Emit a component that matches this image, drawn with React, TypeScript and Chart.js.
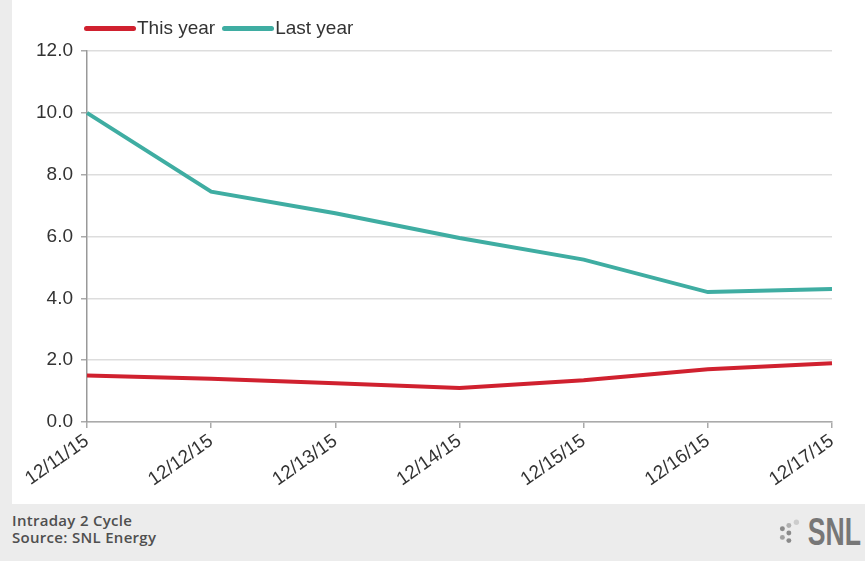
import React, { useEffect, useRef } from "react";
import { Chart, registerables } from "chart.js";

Chart.register(...registerables);

const categories = ["12/11/15", "12/12/15", "12/13/15", "12/14/15", "12/15/15", "12/16/15", "12/17/15"];
const thisYear = [1.5, 1.4, 1.25, 1.1, 1.35, 1.7, 1.9];
const lastYear = [10.0, 7.45, 6.75, 5.95, 5.25, 4.2, 4.3];
const seriesNames = ["This year", "Last year"];
const seriesColors = ["#d0212f", "#3fada2"];
const yMin = 0;
const yMax = 12;
const yStep = 2;
const footerLines = ["Intraday 2 Cycle", "Source: SNL Energy"];

const FONT = "'Liberation Sans', Arial, sans-serif";

export default function App() {
  const ref = useRef<HTMLCanvasElement | null>(null);

  useEffect(() => {
    document.body.style.margin = "0";
    const canvas = ref.current;
    if (!canvas) return;
    const chart = new Chart(canvas, {
      type: "line",
      data: {
        labels: categories,
        datasets: [
          {
            label: seriesNames[0],
            data: thisYear,
            borderColor: seriesColors[0],
            backgroundColor: seriesColors[0],
            borderWidth: 4,
            pointRadius: 0,
            tension: 0,
            fill: false,
          },
          {
            label: seriesNames[1],
            data: lastYear,
            borderColor: seriesColors[1],
            backgroundColor: seriesColors[1],
            borderWidth: 4,
            pointRadius: 0,
            tension: 0,
            fill: false,
          },
        ],
      },
      options: {
        animation: false,
        responsive: false,
        maintainAspectRatio: false,
        layout: { padding: { top: 51, right: 33, bottom: 11, left: 16 } },
        plugins: {
          legend: { display: false },
          tooltip: { enabled: false },
        },
        scales: {
          x: {
            offset: false,
            grid: {
              drawOnChartArea: false,
              drawTicks: true,
              tickLength: 6,
              color: "#aaaaaa",
              lineWidth: 1.5,
            },
            border: { color: "#aaaaaa", width: 1.5 },
            ticks: {
              autoSkip: false,
              minRotation: 35,
              maxRotation: 35,
              padding: 2,
              color: "#333333",
              font: { family: FONT, size: 19 },
            },
          },
          y: {
            min: yMin,
            max: yMax,
            grid: {
              color: "#dddddd",
              lineWidth: 1.5,
              tickLength: 6,
              tickColor: "#aaaaaa",
            },
            border: { color: "#999999", width: 1.5 },
            ticks: {
              stepSize: yStep,
              padding: 8,
              color: "#333333",
              font: { family: FONT, size: 19 },
              callback: (v: any) => Number(v).toFixed(1),
            },
          },
        },
      },
    });
    return () => chart.destroy();
  }, []);

  const legendItem = (name: string, color: string) => (
    <div style={{ display: "flex", alignItems: "center", marginRight: 7 }}>
      <div style={{ width: 52, height: 5, borderRadius: 3, background: color, marginRight: 1 }} />
      <span>{name}</span>
    </div>
  );

  return (
    <div
      style={{
        position: "relative",
        width: 865,
        height: 561,
        background: "#ececec",
        overflow: "hidden",
        fontFamily: FONT,
      }}
    >
      <div style={{ position: "absolute", left: 12, top: 0, width: 853, height: 504, background: "#ffffff" }}>
        <canvas ref={ref} width={853} height={504} style={{ display: "block", width: 853, height: 504 }} />
        <div
          style={{
            position: "absolute",
            left: 72,
            top: 17,
            display: "flex",
            fontSize: 19,
            lineHeight: "22px",
            color: "#333333",
          }}
        >
          {legendItem(seriesNames[0], seriesColors[0])}
          {legendItem(seriesNames[1], seriesColors[1])}
        </div>
      </div>
      <div
        style={{
          position: "absolute",
          left: 12,
          top: 512,
          fontFamily: "'Open Sans', 'Noto Sans', sans-serif",
          fontSize: 15,
          fontWeight: 600,
          letterSpacing: "0.3px",
          lineHeight: "17px",
          color: "#4f4f4f",
        }}
      >
        <div>{footerLines[0]}</div>
        <div>{footerLines[1]}</div>
      </div>
      <div
        style={{
          position: "absolute",
          right: 4,
          top: 511,
          height: 42,
          display: "flex",
          alignItems: "center",
          color: "#777777",
        }}
      >
        <svg width="28" height="28" viewBox="0 0 26 26">
          <circle cx="5" cy="10" r="2.3" fill="#8a8a8a" />
          <circle cx="11" cy="7" r="2.3" fill="#b0b0b0" />
          <circle cx="18" cy="4" r="2.5" fill="#cccccc" />
          <circle cx="11" cy="14" r="2.3" fill="#8a8a8a" />
          <circle cx="5" cy="18" r="2.3" fill="#a0a0a0" />
          <circle cx="11" cy="21" r="2.3" fill="#8a8a8a" />
        </svg>
        <span
          style={{
            fontFamily: FONT,
            fontWeight: 700,
            fontSize: 38,
            lineHeight: "42px",
            display: "inline-block",
            transform: "scaleX(0.7)",
            transformOrigin: "right center",
            marginLeft: -20,
          }}
        >
          SNL
        </span>
      </div>
    </div>
  );
}
